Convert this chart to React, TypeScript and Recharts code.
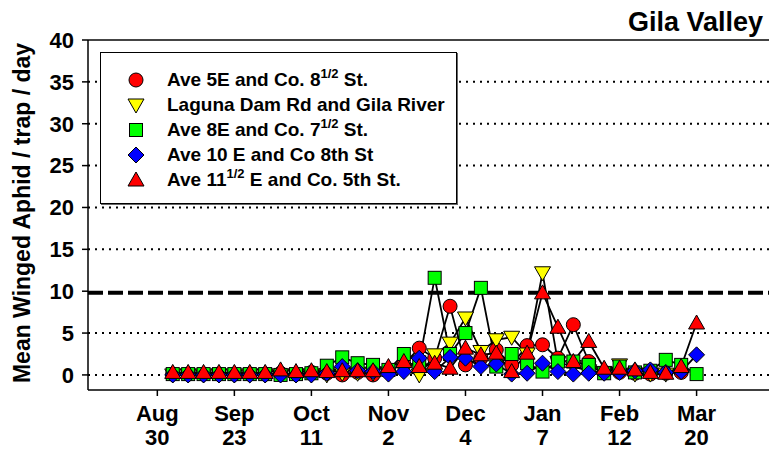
import React from 'react';
import { LineChart, Line, XAxis, YAxis, ReferenceLine, Legend } from 'recharts';

// sampling index (Aug 30 tick = 0, 5 samples per tick interval)
const sampleIdx = [1, 2, 3, 4, 5, 6, 7, 8, 9, 10, 11, 12, 13, 14, 15, 16, 17, 18, 19, 20, 21, 22, 23, 24, 25, 26, 27, 28, 29, 30, 31, 32, 33, 34, 35];

const ave5E = [0.1, 0.1, 0.1, 0.1, 0.1, 0.1, 0.1, 0.2, 0.1, 0.3, 0.2, 0, 0.3, 0, 0.5, 1.3, 3.2, 2.0, 8.2, 1.2, 2.0, 3.0, 1.2, 3.5, 3.6, 2.0, 6.0, 1.6, 0.3, 0.3, 0.2, 0.1, 0.2, 0.3, null];
const laguna = [0, 0, 0, 0, 0, 0, 0, 0, 0, 0, 0, 0.2, 0.2, 0.2, 0.2, 0.5, 0, 2.4, 3.8, 6.8, 2.8, 4.2, 4.5, 2.5, 12.2, 1.5, 1.0, 0.5, 0.3, 1.2, 0.1, 0.1, 0.1, null, null];
const ave8E = [0.1, 0.1, 0.1, 0.1, 0.1, 0.1, 0.1, 0, 0.1, 0.2, 1.1, 2.1, 1.4, 1.2, 0.6, 2.5, 1.5, 11.6, 2.5, 5.0, 10.4, 1.0, 2.5, 1.4, 0.4, 1.6, 1.6, 1.2, 0.2, 1.0, 0.3, 0.5, 1.8, 1.2, 0.1];
const ave10E = [0, 0, 0, 0, 0, 0, 0, 0, 0, 0, 0.2, 1.0, 0.5, 0.4, 0.1, 0.4, 2.0, 0.4, 2.1, 2.0, 1.0, 1.3, 0.1, 0.2, 1.4, 0.4, 0.1, 0.2, 0.2, 0.3, 0.5, 0.6, 0.3, 0.4, 2.4];
const ave11E = [0.3, 0.3, 0.3, 0.3, 0.3, 0.3, 0.3, 0.6, 0.4, 0.5, 0.4, 0.5, 0.5, 0.5, 1.0, 1.6, 1.0, 1.4, 0.8, 3.2, 2.4, 2.6, 0.4, 2.6, 9.8, 5.7, 1.6, 4.0, 0.8, 0.8, 0.6, 0.3, 0.2, 1.0, 6.2];

const xTicks = [0, 5, 10, 15, 20, 25, 30, 35];
const monthLabels = ['Aug', 'Sep', 'Oct', 'Nov', 'Dec', 'Jan', 'Feb', 'Mar'];
const dayLabels = ['30', '23', '11', '2', '4', '7', '12', '20'];
const yTicks = [0, 5, 10, 15, 20, 25, 30, 35, 40];
const gridLevels = [0, 5, 15, 20, 25, 30, 35];
const threshold = 9.8;

const series = [
  { key: 'ave5E', name: 'Ave 5E and Co. 8{1/2} St.', shape: 'circle', fill: '#ff0000' },
  { key: 'laguna', name: 'Laguna Dam Rd and Gila River', shape: 'down', fill: '#ffff00' },
  { key: 'ave8E', name: 'Ave 8E and Co. 7{1/2} St.', shape: 'square', fill: '#00ff00' },
  { key: 'ave10E', name: 'Ave 10 E and Co 8th St', shape: 'diamond', fill: '#0000ff' },
  { key: 'ave11E', name: 'Ave 11{1/2} E and Co. 5th St.', shape: 'up', fill: '#ff0000' },
];

const data = sampleIdx.map((x, i) => ({
  x,
  ave5E: ave5E[i],
  laguna: laguna[i],
  ave8E: ave8E[i],
  ave10E: ave10E[i],
  ave11E: ave11E[i],
}));

const FONT = 'Arial, "Liberation Sans", sans-serif';

function Marker({ shape, fill, cx, cy }: { shape: string; fill: string; cx: number; cy: number }) {
  const s = { fill, stroke: '#000', strokeWidth: 1 };
  if (shape === 'circle') return <circle cx={cx} cy={cy} r={7} {...s} />;
  if (shape === 'square') return <rect x={cx - 6.5} y={cy - 6.5} width={13} height={13} {...s} />;
  if (shape === 'diamond')
    return <polygon points={`${cx},${cy - 8} ${cx + 8},${cy} ${cx},${cy + 8} ${cx - 8},${cy}`} {...s} />;
  if (shape === 'down')
    return <polygon points={`${cx - 8},${cy - 6} ${cx + 8},${cy - 6} ${cx},${cy + 8}`} {...s} />;
  return <polygon points={`${cx - 8},${cy + 6} ${cx + 8},${cy + 6} ${cx},${cy - 8}`} {...s} />;
}

function renderName(name: string) {
  const parts = name.split(/\{|\}/);
  return parts.map((p, i) =>
    i % 2 === 1 ? (
      <sup key={i} style={{ fontSize: 13, verticalAlign: 0, position: 'relative', top: -8 }}>{p}</sup>
    ) : (
      <span key={i}>{p}</span>
    )
  );
}

function LegendBox() {
  return (
    <div
      style={{
        width: 357,
        height: 152,
        background: '#fff',
        border: '1px solid #000',
        boxShadow: '1px 1px 0 #666',
        paddingTop: 14,
        boxSizing: 'border-box',
        fontFamily: FONT,
        fontWeight: 'bold',
        fontSize: 19,
      }}
    >
      {series.map((s) => (
        <div key={s.key} style={{ height: 25, display: 'flex', alignItems: 'center' }}>
          <svg width={20} height={20} style={{ marginLeft: 25 }}>
            <Marker shape={s.shape} fill={s.fill} cx={10} cy={10} />
          </svg>
          <span style={{ marginLeft: 21, whiteSpace: 'nowrap' }}>{renderName(s.name)}</span>
        </div>
      ))}
    </div>
  );
}

function XTick({ x, y, payload }: any) {
  const i = xTicks.indexOf(payload.value);
  return (
    <g>
      <text x={x} y={y + 23} textAnchor="middle" fontFamily={FONT} fontWeight="bold" fontSize={22} fill="#000">
        {monthLabels[i]}
      </text>
      <text x={x} y={y + 47} textAnchor="middle" fontFamily={FONT} fontWeight="bold" fontSize={22} fill="#000">
        {dayLabels[i]}
      </text>
    </g>
  );
}

function YLabel({ viewBox }: any) {
  const cx = 22;
  const cy = viewBox.y + viewBox.height / 2 - 2;
  return (
    <text
      x={cx}
      y={cy}
      transform={`rotate(-90, ${cx}, ${cy})`}
      textAnchor="middle"
      dominantBaseline="central"
      fontFamily={FONT}
      fontWeight="bold"
      fontSize={23}
      fill="#000"
    >
      Mean Winged Aphid / trap / day
    </text>
  );
}

export default function App() {
  return (
    <div style={{ position: 'absolute', left: 0, top: 0, width: 769, height: 449, background: '#fff' }}>
      <div
        style={{
          position: 'absolute',
          right: 6,
          top: 9,
          fontFamily: FONT,
          fontWeight: 'bold',
          fontSize: 27,
          lineHeight: '27px',
          color: '#000',
        }}
      >
        Gila Valley
      </div>
      <LineChart width={769} height={449} data={data} margin={{ top: 40, right: 0, bottom: 0, left: 0 }}>
        <XAxis
          dataKey="x"
          type="number"
          domain={[-4.5, 39.7]}
          ticks={xTicks}
          allowDataOverflow
          height={59}
          tickSize={6}
          tick={<XTick />}
          axisLine={{ stroke: '#000', strokeWidth: 1.5 }}
          tickLine={{ stroke: '#000', strokeWidth: 1.5 }}
        />
        <YAxis
          type="number"
          domain={[-1.8, 40]}
          ticks={yTicks}
          allowDataOverflow
          width={88}
          tickSize={6}
          tickMargin={8}
          tick={{ fontFamily: FONT, fontWeight: 'bold', fontSize: 22, fill: '#000' }}
          axisLine={{ stroke: '#000', strokeWidth: 1.5 }}
          tickLine={{ stroke: '#000', strokeWidth: 1.5 }}
          label={<YLabel />}
        />
        <ReferenceLine y={40} stroke="#444" strokeWidth={2} />
        {gridLevels.map((g) => (
          <ReferenceLine key={g} y={g} stroke="#000" strokeWidth={2} strokeDasharray="2 5" />
        ))}
        <ReferenceLine y={threshold} stroke="#000" strokeWidth={4} strokeDasharray="15 5" />
        {series.map((s) => (
          <Line
            key={s.key}
            dataKey={s.key}
            name={s.name}
            type="linear"
            stroke="#000"
            strokeWidth={1.8}
            isAnimationActive={false}
            activeDot={false}
            dot={(p: any) =>
              p.cy == null || p.value == null ? (
                <g key={`${s.key}-${p.index}`} />
              ) : (
                <Marker key={`${s.key}-${p.index}`} shape={s.shape} fill={s.fill} cx={p.cx} cy={p.cy} />
              )
            }
          />
        ))}
        <Legend
          layout="vertical"
          align="center"
          verticalAlign="middle"
          wrapperStyle={{ position: 'absolute', left: 100, top: 52, width: 358, height: 153 }}
          content={() => <LegendBox />}
        />
      </LineChart>
    </div>
  );
}
